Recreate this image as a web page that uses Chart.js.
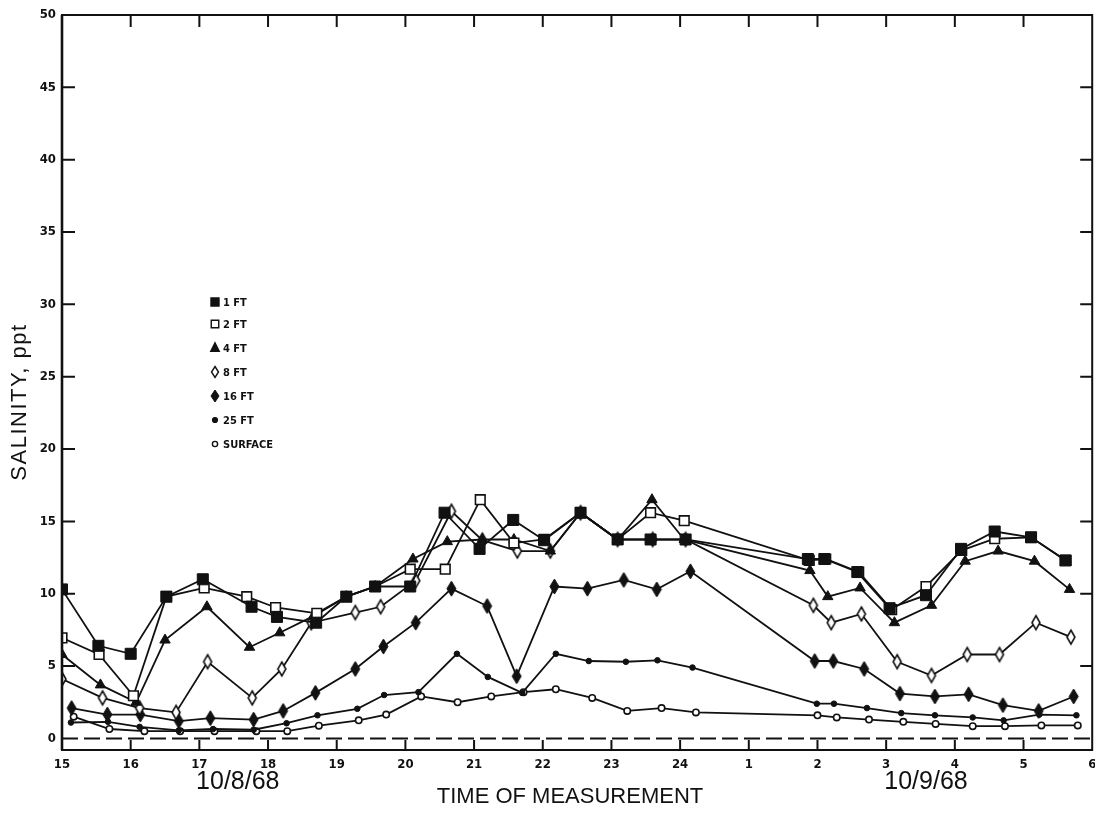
<!DOCTYPE html>
<html>
<head>
<meta charset="utf-8">
<script src="https://cdn.jsdelivr.net/npm/chart.js@4/dist/chart.umd.min.js"></script>
<style>
  html, body { margin: 0; padding: 0; background: #fff; overflow: hidden; }
  #wrap { width: 1095px; height: 813px; position: relative; overflow: hidden; }
  #c { position: absolute; left: 0; top: 0; }
</style>
</head>
<body>
<div id="wrap"><canvas id="c" width="1101" height="813"></canvas></div>
<script>
// Hour-of-day tick labels (15:00 on 10/8/68 through 06:00 on 10/9/68)
const tickLabels = ['15','16','17','18','19','20','21','22','23','24','1','2','3','4','5','6'];
const yTickValues = [0, 5, 10, 15, 20, 25, 30, 35, 40, 45, 50];
const depthLabels = ['1 FT', '2 FT', '4 FT', '8 FT', '16 FT', '25 FT', 'SURFACE'];
const dateLabels = ['10/8/68', '10/9/68'];

// Measurement times (hours after midnight of 10/8/68) and salinity (ppt) by depth
const hours1ft = [15.0, 15.53, 16.0, 16.52, 17.05, 17.76, 18.13, 18.70, 19.14, 19.56, 20.07, 20.57, 21.08, 21.57, 22.02, 22.55, 23.09, 23.57, 24.08, 25.86, 26.10, 26.58, 27.05, 27.58, 28.09, 28.58, 29.11, 29.61];
const sal1ft   = [10.3, 6.4, 5.85, 9.8, 11.0, 9.1, 8.4, 8.0, 9.8, 10.5, 10.5, 15.6, 13.1, 15.1, 13.7, 15.6, 13.75, 13.75, 13.75, 12.4, 12.4, 11.5, 9.0, 9.9, 13.1, 14.3, 13.9, 12.3];

const hours2ft = [15.0, 15.54, 16.04, 16.52, 17.07, 17.69, 18.11, 18.71, 19.14, 19.56, 20.07, 20.58, 21.09, 21.58, 22.02, 22.55, 23.09, 23.57, 24.06, 25.88, 26.12, 26.6, 27.08, 27.58, 28.1, 28.58, 29.11, 29.62];
const sal2ft   = [6.95, 5.8, 2.95, 9.8, 10.4, 9.8, 9.05, 8.65, 9.8, 10.5, 11.7, 11.7, 16.5, 13.5, 13.75, 15.6, 13.75, 15.6, 15.05, 12.3, 12.4, 11.5, 8.9, 10.5, 13.0, 13.8, 13.9, 12.3];

const hours4ft = [15.0, 15.56, 16.08, 16.5, 17.11, 17.73, 18.17, 18.66, 19.14, 19.56, 20.11, 20.61, 21.12, 21.58, 22.11, 22.55, 23.09, 23.59, 24.06, 25.89, 26.15, 26.62, 27.12, 27.66, 28.15, 28.63, 29.16, 29.67];
const sal4ft   = [5.8, 3.7, 2.5, 6.8, 9.1, 6.3, 7.3, 8.45, 9.8, 10.5, 12.4, 13.6, 13.75, 13.75, 12.95, 15.6, 13.75, 16.5, 13.75, 11.6, 9.8, 10.4, 8.0, 9.2, 12.25, 12.95, 12.25, 10.3];

const hours8ft = [15.0, 15.59, 16.13, 16.66, 17.12, 17.77, 18.2, 18.63, 19.27, 19.64, 20.15, 20.67, 21.12, 21.63, 22.11, 22.55, 23.09, 23.6, 24.08, 25.94, 26.2, 26.64, 27.16, 27.66, 28.18, 28.65, 29.18, 29.69];
const sal8ft   = [4.1, 2.8, 2.1, 1.8, 5.3, 2.8, 4.8, 8.0, 8.7, 9.1, 10.9, 15.7, 13.7, 12.95, 12.95, 15.6, 13.75, 13.75, 13.75, 9.2, 8.0, 8.6, 5.3, 4.35, 5.8, 5.8, 8.0, 7.0];

const hours16ft = [15.14, 15.66, 16.14, 16.7, 17.16, 17.79, 18.22, 18.69, 19.27, 19.68, 20.15, 20.67, 21.19, 21.62, 22.17, 22.65, 23.18, 23.66, 24.15, 25.96, 26.23, 26.68, 27.2, 27.71, 28.2, 28.7, 29.22, 29.73];
const sal16ft   = [2.1, 1.65, 1.65, 1.2, 1.4, 1.3, 1.9, 3.15, 4.8, 6.35, 8.0, 10.35, 9.15, 4.3, 10.5, 10.35, 10.95, 10.3, 11.55, 5.35, 5.35, 4.8, 3.1, 2.9, 3.05, 2.3, 1.9, 2.9];

const hours25ft = [15.13, 15.67, 16.13, 16.7, 17.2, 17.79, 18.27, 18.72, 19.3, 19.69, 20.19, 20.75, 21.2, 21.7, 22.19, 22.67, 23.21, 23.67, 24.18, 25.99, 26.24, 26.72, 27.22, 27.71, 28.26, 28.71, 29.23, 29.77];
const sal25ft   = [1.1, 1.15, 0.8, 0.55, 0.65, 0.6, 1.05, 1.6, 2.05, 3.0, 3.2, 5.85, 4.25, 3.15, 5.85, 5.35, 5.3, 5.4, 4.9, 2.4, 2.4, 2.1, 1.75, 1.6, 1.45, 1.25, 1.65, 1.6];

const hoursSurface = [15.17, 15.69, 16.2, 16.72, 17.22, 17.83, 18.28, 18.74, 19.32, 19.72, 20.23, 20.76, 21.25, 21.72, 22.19, 22.72, 23.23, 23.73, 24.23, 26.0, 26.28, 26.75, 27.25, 27.72, 28.26, 28.73, 29.26, 29.79];
const salSurface   = [1.5, 0.65, 0.5, 0.5, 0.5, 0.5, 0.5, 0.88, 1.25, 1.65, 2.9, 2.5, 2.9, 3.2, 3.4, 2.8, 1.9, 2.1, 1.8, 1.6, 1.45, 1.3, 1.15, 1.0, 0.85, 0.85, 0.9, 0.9];

const INK = '#111';
const narrow = "'Liberation Sans Narrow', 'DejaVu Sans Condensed', 'Liberation Sans', sans-serif";
const plain = "'Liberation Sans', Arial, sans-serif";

// Tall diamond markers drawn onto small canvases
function diamond(w, h, filled, lw) {
  const c = document.createElement('canvas');
  c.width = Math.ceil(w + lw * 2 + 2);
  c.height = Math.ceil(h + lw * 2 + 2);
  const g = c.getContext('2d');
  const cx = c.width / 2, cy = c.height / 2;
  g.beginPath();
  g.moveTo(cx, cy - h / 2);
  g.lineTo(cx + w / 2, cy);
  g.lineTo(cx, cy + h / 2);
  g.lineTo(cx - w / 2, cy);
  g.closePath();
  g.fillStyle = filled ? INK : '#fff';
  g.fill();
  g.lineWidth = lw;
  g.strokeStyle = INK;
  g.lineJoin = 'miter';
  g.stroke();
  return c;
}
const openDiamond = diamond(8, 14, false, 1.6);
const solidDiamond = diamond(9, 15, true, 1);
const openDiamondSmall = diamond(7, 11, false, 1.4);
const solidDiamondSmall = diamond(8, 12, true, 1);

function pts(hours, vals) { return hours.map((h, i) => ({ x: h, y: vals[i] })); }

const seriesDefs = [
  { hours: hours1ft, vals: sal1ft, style: 'rect', radius: 7.8, fill: INK },
  { hours: hours2ft, vals: sal2ft, style: 'rect', radius: 6.8, fill: '#fff' },
  { hours: hours4ft, vals: sal4ft, style: 'triangle', radius: 6, fill: INK },
  { hours: hours8ft, vals: sal8ft, style: openDiamond, radius: 6, fill: '#fff' },
  { hours: hours16ft, vals: sal16ft, style: solidDiamond, radius: 6, fill: INK },
  { hours: hours25ft, vals: sal25ft, style: 'circle', radius: 2.8, fill: INK },
  { hours: hoursSurface, vals: salSurface, style: 'circle', radius: 3.2, fill: '#fff' }
];

const datasets = seriesDefs.map((s, i) => ({
  label: depthLabels[i],
  data: pts(s.hours, s.vals),
  borderColor: INK,
  borderWidth: 1.8,
  pointStyle: s.style,
  pointRadius: s.radius,
  pointBackgroundColor: s.fill,
  pointBorderColor: INK,
  pointBorderWidth: s.fill === '#fff' ? 1.6 : 1,
  tension: 0,
  fill: false
}));

// Legend marker styles (drawn by the frame plugin)
const legendMarks = [
  { kind: 'square', size: 8, fill: true },
  { kind: 'square', size: 7.5, fill: false },
  { kind: 'triangle', size: 8.5, fill: true },
  { kind: 'img', img: openDiamondSmall },
  { kind: 'img', img: solidDiamondSmall },
  { kind: 'dot', size: 2.4, fill: true },
  { kind: 'dot', size: 2.6, fill: false }
];

const framePlugin = {
  id: 'frame',
  beforeDatasetsDraw(chart) {
    const { ctx, chartArea: a, scales } = chart;
    const y0 = scales.y.getPixelForValue(0);
    ctx.save();
    ctx.strokeStyle = INK;
    ctx.lineWidth = 2;
    ctx.setLineDash([16, 6]);
    ctx.beginPath();
    ctx.moveTo(a.left, y0);
    ctx.lineTo(a.right, y0);
    ctx.stroke();
    ctx.restore();
  },
  afterDraw(chart) {
    const { ctx, chartArea: a, scales } = chart;
    const xs = scales.x, ys = scales.y;
    ctx.save();
    ctx.strokeStyle = INK;
    ctx.lineCap = 'butt';
    // frame
    ctx.lineWidth = 2;
    ctx.strokeRect(a.left, a.top, a.right - a.left, a.bottom - a.top);
    ctx.lineWidth = 2.6;
    ctx.beginPath(); ctx.moveTo(a.left, a.top); ctx.lineTo(a.left, a.bottom); ctx.stroke();
    // inward ticks
    ctx.lineWidth = 2;
    ctx.beginPath();
    for (let h = 16; h < 30; h++) {
      const px = xs.getPixelForValue(h);
      ctx.moveTo(px, a.top); ctx.lineTo(px, a.top + 12);
      ctx.moveTo(px, a.bottom); ctx.lineTo(px, a.bottom - 10);
    }
    yTickValues.forEach(v => {
      if (v <= 0 || v >= 50) return;
      const py = ys.getPixelForValue(v);
      ctx.moveTo(a.left, py); ctx.lineTo(a.left + 13, py);
      ctx.moveTo(a.right, py); ctx.lineTo(a.right - 12, py);
    });
    ctx.stroke();

    // axis titles and dates
    ctx.fillStyle = INK;
    ctx.textAlign = 'center';
    ctx.textBaseline = 'middle';
    ctx.font = '22px ' + plain;
    ctx.fillText('TIME OF MEASUREMENT', 570, 797);
    ctx.font = '25px ' + plain;
    ctx.fillText(dateLabels[0], xs.getPixelForValue(17.56), 782);
    ctx.fillText(dateLabels[1], xs.getPixelForValue(27.58), 782);
    ctx.save();
    ctx.translate(20, 402);
    ctx.rotate(-Math.PI / 2);
    ctx.font = '22px ' + plain;
    if ('letterSpacing' in ctx) ctx.letterSpacing = '1.5px';
    ctx.fillText('SALINITY, ppt', 0, 0);
    ctx.restore();

    // legend
    const lx = 215, rows = [302, 324, 348, 372, 396, 420, 444];
    ctx.textAlign = 'left';
    ctx.font = 'bold 11px ' + narrow;
    legendMarks.forEach((m, i) => {
      const y = rows[i];
      ctx.lineWidth = 1.4;
      ctx.beginPath();
      if (m.kind === 'square') {
        ctx.rect(lx - m.size / 2, y - m.size / 2, m.size, m.size);
        ctx.fillStyle = m.fill ? INK : '#fff';
        ctx.fill(); ctx.stroke();
      } else if (m.kind === 'triangle') {
        ctx.moveTo(lx, y - m.size / 2 - 1);
        ctx.lineTo(lx + m.size / 2, y + m.size / 2 - 1);
        ctx.lineTo(lx - m.size / 2, y + m.size / 2 - 1);
        ctx.closePath();
        ctx.fillStyle = INK; ctx.fill(); ctx.stroke();
      } else if (m.kind === 'dot') {
        ctx.arc(lx, y, m.size, 0, Math.PI * 2);
        ctx.fillStyle = m.fill ? INK : '#fff';
        ctx.fill(); ctx.stroke();
      } else {
        ctx.drawImage(m.img, lx - m.img.width / 2, y - m.img.height / 2);
      }
      ctx.fillStyle = INK;
      ctx.fillText(depthLabels[i], lx + 8, y + 1);
    });
    ctx.restore();
  }
};

new Chart(document.getElementById('c'), {
  type: 'line',
  data: { datasets },
  options: {
    responsive: false,
    animation: false,
    devicePixelRatio: 1,
    layout: { padding: { top: 15, right: 3, left: 0, bottom: 0 } },
    plugins: { legend: { display: false }, tooltip: { enabled: false } },
    scales: {
      x: {
        type: 'linear',
        min: 15, max: 30,
        afterFit(s) { s.height = 63; s.paddingLeft = 0; s.paddingRight = 0; },
        afterBuildTicks(s) { s.ticks = tickLabels.map((_, i) => ({ value: 15 + i })); },
        grid: { display: false, drawTicks: false },
        border: { display: false },
        ticks: {
          autoSkip: false,
          maxRotation: 0,
          padding: 7,
          color: INK,
          font: { family: narrow, size: 13, weight: 'bold' },
          callback: (v) => tickLabels[Math.round(v) - 15]
        }
      },
      y: {
        type: 'linear',
        min: -0.8, max: 50,
        afterFit(s) { s.width = 62; s.paddingTop = 0; s.paddingBottom = 0; },
        afterBuildTicks(s) { s.ticks = yTickValues.map(v => ({ value: v })); },
        grid: { display: false, drawTicks: false },
        border: { display: false },
        ticks: {
          padding: 6,
          color: INK,
          font: { family: narrow, size: 13, weight: 'bold' },
          callback: (v) => String(v)
        }
      }
    }
  },
  plugins: [framePlugin]
});
</script>
</body>
</html>
